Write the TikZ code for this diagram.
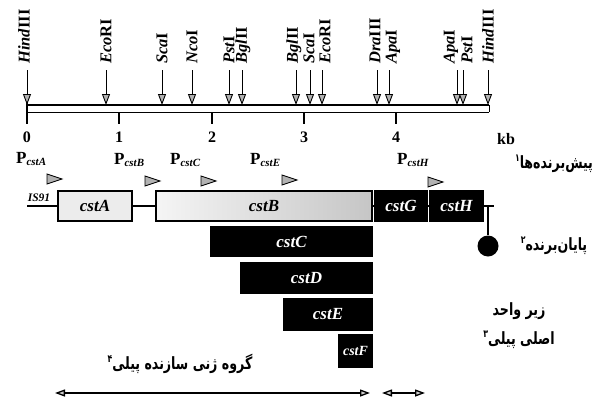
\documentclass[tikz,border=0pt]{standalone}
\usepackage{fontspec}
\setmainfont{Liberation Serif}
\newfontfamily\fa[Script=Arabic]{DejaVu Sans}
\TeXXeTstate=1
\usetikzlibrary{arrows.meta}
\tikzset{
  site/.style={line width=1pt, -{Triangle[length=11pt,width=8pt,fill=gray!60,line width=0.9pt]}},
  enz/.style={rotate=90, anchor=west, font=\fontsize{16.5}{16.5}\selectfont\bfseries, inner sep=0pt},
  num/.style={font=\fontsize{16}{16}\selectfont\bfseries, inner sep=0pt},
  prom/.style={font=\fontsize{17}{17}\selectfont\bfseries, inner sep=0pt, anchor=west},
  ptri/.style={draw, fill=gray!60, line width=0.9pt},
  gene/.style={draw, line width=1.2pt, inner sep=0pt, font=\fontsize{17}{17}\selectfont\bfseries\itshape},
  blk/.style={gene, fill=black, text=white},
  dna/.style={line width=1.3pt},
  falab/.style={font=\fontsize{13}{15}\selectfont\fa\bfseries, inner sep=0pt},
  span/.style={line width=1.3pt, {Triangle[length=10pt,width=7pt,fill=gray!40]}-{Triangle[length=10pt,width=7pt,fill=gray!40]}},
}
\newcommand{\fsup}[1]{\raisebox{0.8ex}{\fontsize{8}{8}\selectfont #1}}
\newcommand{\tallfa}[1]{\scalebox{0.97}[1.3]{#1}}
\begin{document}
\begin{tikzpicture}[x=1pt,y=-1pt]
\useasboundingbox (0,0) rectangle (597,402);
% ruler
\draw[line width=1.8pt] (27,105) -- (489,105);
\draw[line width=1pt] (27,112) -- (489,112);
\draw[line width=1pt] (489,105) -- (489,112);
\draw[line width=1.1pt] (27,100) -- (27,124);
\foreach \x/\n in {27/0,119/1,212/2,304/3,396/4}{
  \draw[line width=1.1pt] (\x,112) -- (\x,124);
  \node[num] (n\n) at (\x,137) {\n};
}
\node[num, anchor=west] (kb) at (497,139) {kb};
% restriction sites
\foreach \i/\ax/\lx/\a/\b in {1/27/24/Hind/III, 2/106/106/Eco/RI, 3/162/162/Sca/I, 4/192/192/Nco/I,
  5/229/229/Pst/I, 6/242/243/Bgl/II, 7/296/294/Bgl/II, 8/310/309/Sca/I, 9/322/325/Eco/RI,
  10/377/375/Dra/III, 11/389/393/Apa/I, 12/457/451/Apa/I, 13/463/467/Pst/I, 14/488/488/Hind/III}{
  \node[enz] (e\i) at (\lx,64) {\textit{\a}\b};
  \coordinate (s\i) at (\ax,70);
  \coordinate (t\i) at (\ax,105);
  \draw[site] (s\i) -- (t\i);
}
% promoters
\node[prom] (pA) at (16,159) {P\textsubscript{\fontsize{11}{11}\selectfont\itshape cstA}};
\node[prom] (pB) at (114,160) {P\textsubscript{\fontsize{11}{11}\selectfont\itshape cstB}};
\node[prom] (pC) at (170,160) {P\textsubscript{\fontsize{11}{11}\selectfont\itshape cstC}};
\node[prom] (pE) at (250,160) {P\textsubscript{\fontsize{11}{11}\selectfont\itshape cstE}};
\node[prom] (pH) at (397,160) {P\textsubscript{\fontsize{11}{11}\selectfont\itshape cstH}};
\foreach \x/\y in {47/179,145/181,201/181,282/180,428/182}{
  \draw[ptri] (\x,\y-5) -- (\x+15,\y) -- (\x,\y+5) -- cycle;
}
% genes
\node[font=\fontsize{11.5}{11.5}\selectfont\bfseries\itshape, inner sep=0pt] (is) at (39,198) {IS91};
\coordinate (dnaL) at (27,206);
\node[gene, fill=gray!15, minimum width=74pt, minimum height=30pt] (cstA) at (95,206) {cstA};
\node[gene, left color=gray!8, right color=gray!45, minimum width=216pt, minimum height=30pt] (cstB) at (264,206) {cstB};
\node[blk, minimum width=52pt, minimum height=30pt] (cstG) at (401,206) {cstG};
\node[blk, minimum width=53pt, minimum height=30pt] (cstH) at (456.5,206) {cstH};
\coordinate (dnaR) at (494,206);
\coordinate (term) at (488,206);
\draw[dna] (dnaL) -- (cstA.west);
\draw[dna] (cstA.east) -- (cstB.west);
\draw[dna] (cstB.east) -- (cstG.west);
\draw[dna] (cstG.east) -- (cstH.west);
\draw[dna] (cstH.east) -- (dnaR);
\node[circle, fill=black, minimum size=21pt, inner sep=0pt] (stop) at (488,246) {};
\draw[line width=1.3pt] (term) -- (stop);
\node[blk, minimum width=161pt, minimum height=29pt] (cstC) at (291.5,241.5) {cstC};
\node[blk, minimum width=131pt, minimum height=30pt] (cstD) at (306.5,278) {cstD};
\node[blk, minimum width=88pt, minimum height=31pt] (cstE) at (328,314.5) {cstE};
\node[blk, minimum width=33pt, minimum height=32pt, font=\fontsize{14}{14}\selectfont\bfseries\itshape] (cstF) at (355.5,351) {cstF};
% Persian labels
\node[falab] (lp) at (554,164) {\tallfa{\beginR پیش‌برنده‌ها\fsup{۱}\endR}};
\node[falab] (lt) at (554,246) {\tallfa{\beginR پایان‌برنده\fsup{۲}\endR}};
\node[falab] (ls1) at (519,311) {\tallfa{\beginR زیر واحد\endR}};
\node[falab] (ls2) at (519,340) {\tallfa{\beginR اصلی پیلی\fsup{۳}\endR}};
\node[falab] (lg) at (180,364) {\tallfa{\beginR گروه ژنی سازنده پیلی\fsup{۴}\endR}};
% spans
\coordinate (g1) at (55,393);
\coordinate (g2) at (370,393);
\coordinate (m1) at (382,393);
\coordinate (m2) at (425,393);
\draw[span] (g1) -- (g2);
\draw[span] (m1) -- (m2);
\end{tikzpicture}
\end{document}
